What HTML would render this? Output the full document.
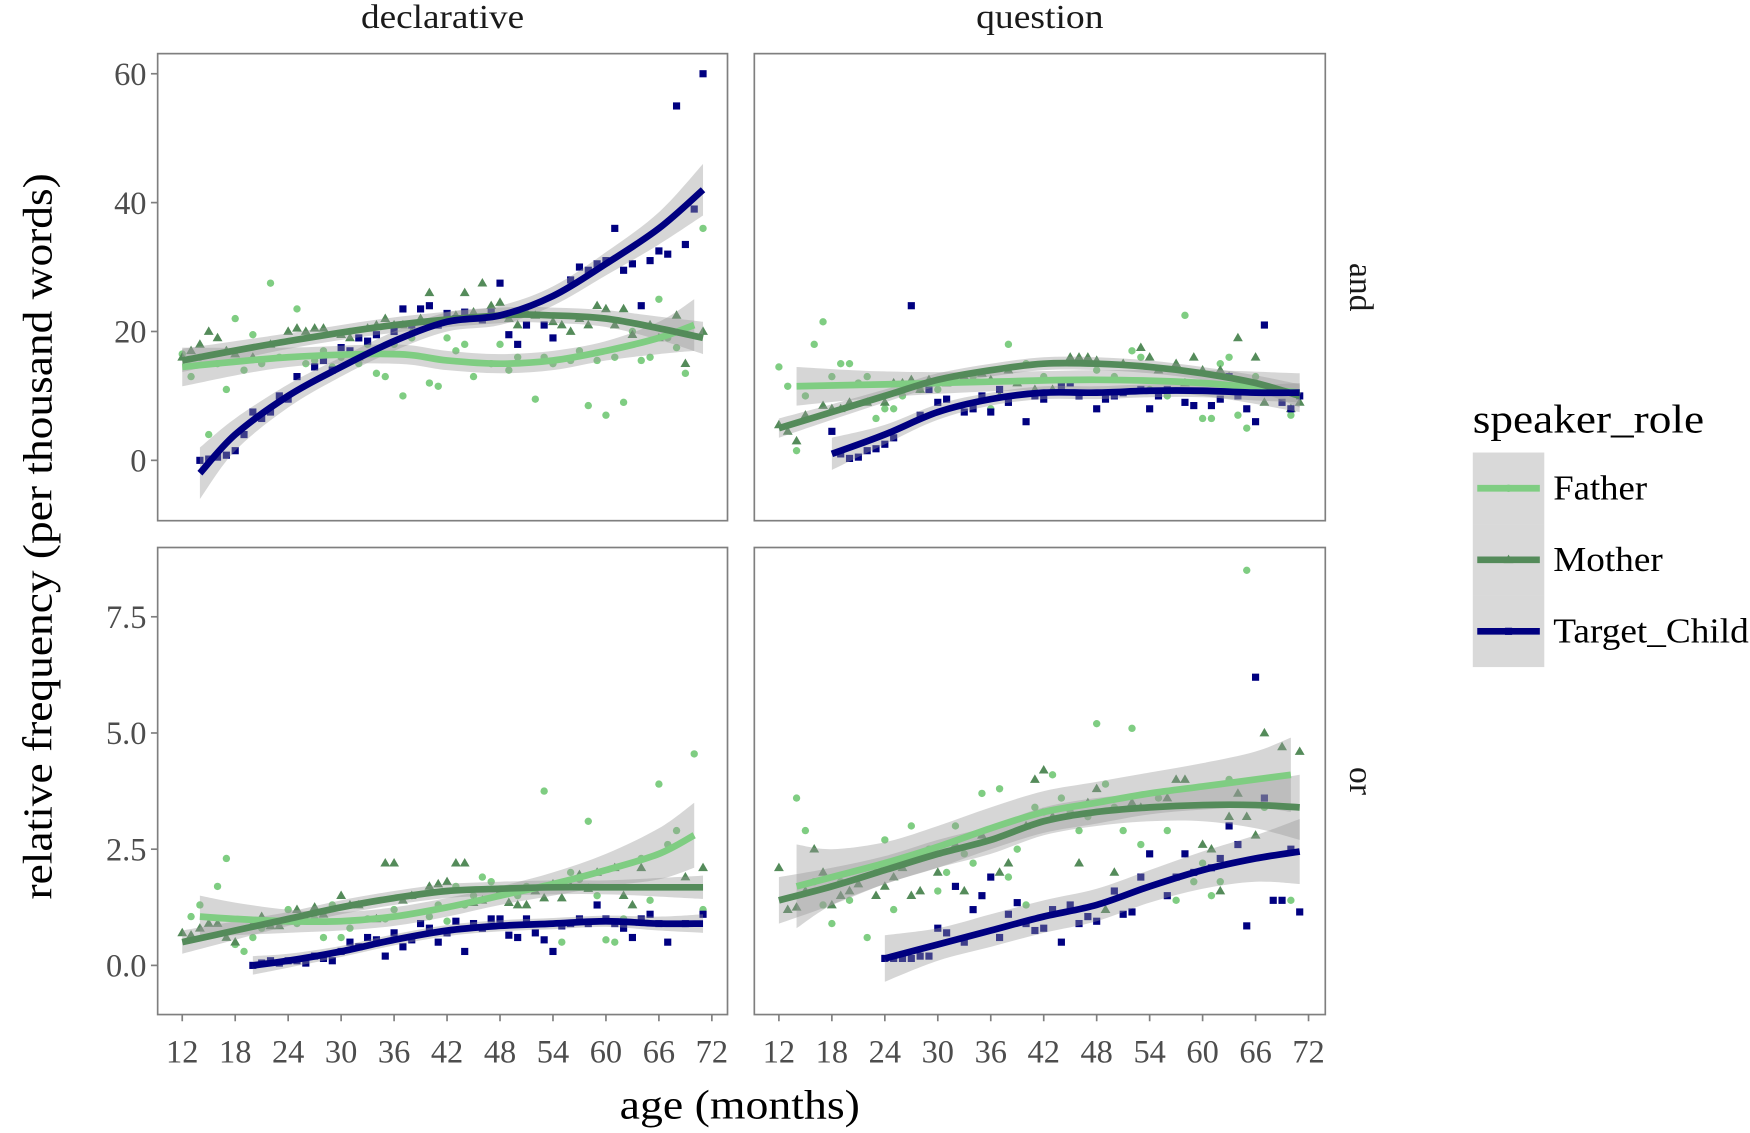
<!DOCTYPE html>
<html><head><meta charset="utf-8"><style>
html,body{margin:0;padding:0;background:#fff;}
svg{display:block;font-family:"Liberation Serif",serif;}
</style></head><body>
<svg id="chart" width="1750" height="1133" viewBox="0 0 1566 1014" xmlns="http://www.w3.org/2000/svg"></svg>
<script>
// ---------- data ----------
const xTicks = [12,18,24,30,36,42,48,54,60,66,72];
const yTicksTop = [0,20,40,60];
const yTicksBottom = [0.0,2.5,5.0,7.5];
const colLabels = ["declarative","question"];
const rowLabels = ["and","or"];
const seriesNames = ["Father","Mother","Target_Child"];

// and / declarative
const tlFatherPts = [[12,16.5],[13,13],[14,16],[15,4],[16,15],[17,11],[18,22],[19,14],[20,19.5],[21,15],[22,27.5],[23,16],[25,23.5],[26,15],[27,15.5],[28,17],[29,14.5],[30,16],[31,20],[32,15],[33,18],[34,13.5],[35,13],[36,18],[37,10],[38,19],[40,12],[41,11.5],[42,19],[43,17],[44,18],[45,13],[47,15],[48,18],[49,14],[50,16],[52,9.5],[53,16],[54,15],[56,15.5],[57,17],[58,8.5],[59,15.5],[60,7],[61,16],[62,9],[63,20],[64,15.5],[65,16],[66,25],[67,19],[68,17.5],[69,13.5],[71,36]];
const tlMotherPts = [[12,16],[13,17],[14,18],[15,20],[16,19],[17,17],[18,16.5],[20,16],[22,18],[24,20],[25,20.5],[26,20],[27,20.5],[28,20.5],[30,19.5],[31,19],[32,16],[33,20.5],[34,21],[35,22],[36,21],[37,21],[38,20],[39,22],[40,26],[42,22],[43,22.5],[44,26],[45,23],[46,27.5],[47,24],[48,24.5],[49,22],[50,21],[51,23],[52,22.5],[54,21.5],[55,21],[56,20],[57,22],[58,21],[59,24],[60,23.5],[61,21],[62,23.5],[63,19.5],[65,21],[66,19],[68,22.5],[69,15],[71,20]];
const tlTargetPts = [[14,0],[15,0.2],[16,0.5],[17,0.8],[18,1.5],[19,4],[20,7.5],[21,6.5],[22,7.5],[23,10],[24,9.5],[25,13],[27,14.5],[28,15.5],[29,14],[30,17.5],[31,17],[32,19],[33,18.5],[34,19.5],[36,20],[37,23.5],[38,21],[39,23.5],[40,24],[41,21],[42,22.8],[43,22],[44,23],[46,21.8],[47,23],[48,27.5],[49,19.5],[50,18],[51,21],[53,21],[54,19],[56,28],[57,30],[58,29.5],[59,30.5],[60,31],[61,36],[62,29.5],[63,30.5],[64,24],[65,31],[66,32.5],[67,32],[68,55],[69,33.5],[70,39],[71,60]];
const tlFatherAges=[12,24,36,42,48,54,60,66,70], tlFatherFit=[14.5,16,16.5,15.5,15,15.5,17,19,21], tlFatherCi=[3,1.5,1.5,1.5,1.5,1.5,1.5,2.5,4];
const tlMotherAges=[12,24,36,48,54,60,66,71], tlMotherFit=[15.5,18.5,21,22.5,22.5,22,20.5,19], tlMotherCi=[1.8,1.2,1.2,1.2,1.2,1.3,1.8,2.5];
const tlTargetAges=[14,18,24,30,36,42,48,54,60,66,71], tlTargetFit=[-2,4,10,14.5,18.5,21.5,22.5,25.5,30.5,36,42], tlTargetCi=[4,2.5,1.8,1.5,1.5,1.5,1.5,1.5,1.8,2.5,4];

// and / question
const trFatherPts = [[12,14.5],[13,11.5],[14,1.5],[15,10],[16,18],[17,21.5],[18,13],[19,15],[20,15],[21,12],[22,13],[23,6.5],[24,8],[25,8],[26,10],[28,11],[30,11],[32,13],[34,13],[36,8],[38,18],[40,15],[42,13],[44,12],[46,10],[48,14],[50,13],[52,17],[53,16],[54,11],[56,10],[58,22.5],[60,6.5],[61,6.5],[62,15],[63,16],[64,7],[65,5],[66,13],[68,11],[70,7]];
const trMotherPts = [[12,5.5],[13,4.5],[14,3],[15,7],[17,8.5],[18,8],[19,8],[20,9],[22,9],[24,9],[25,12],[26,12],[27,12.5],[28,11],[29,12.5],[31,12],[33,13],[35,13.5],[36,12.5],[37,10],[38,14],[39,12],[41,11],[43,11],[45,16],[46,16],[47,16],[48,15.5],[51,15],[53,17.5],[54,16],[55,14],[57,15],[58,12],[59,16],[60,14],[62,14],[63,13],[64,19],[66,16],[67,9],[70,8],[71,9]];
const trTargetPts = [[18,4.5],[19,1],[20,0.3],[21,0.5],[22,1.5],[23,1.8],[24,2.5],[25,3.5],[27,24],[28,7],[29,11],[30,9],[31,9.5],[33,7.5],[34,8],[35,10],[36,7.5],[37,11],[38,9],[40,6],[41,10],[42,9.5],[44,11.5],[45,12],[46,10],[48,8],[49,9.5],[50,10],[51,10.5],[53,11],[54,8],[55,10],[56,11],[58,9],[59,8.5],[61,8.5],[62,9.5],[63,13],[64,10],[65,8],[66,6],[67,21],[69,9],[70,8],[71,10]];
const trFatherAges=[14,24,36,48,60,71], trFatherFit=[11.5,11.8,12.2,12.5,12,10.5], trFatherCi=[3,2,1.5,1.5,2,3];
const trMotherAges=[12,18,24,30,36,42,48,54,60,66,71], trMotherFit=[5,7.5,10,12.5,14,15,15,14.5,13.5,12,10], trMotherCi=[1.5,1.2,1,1,1,1,1,1,1,1.2,1.8];
const trTargetAges=[18,24,30,36,42,48,54,60,66,71], trTargetFit=[1,4,7.5,9.5,10.5,10.5,10.8,10.8,10.5,10.5], trTargetCi=[2.5,1.5,1.2,1,1,1,1,1,1.2,1.5];

// or / declarative
const blFatherPts = [[13,1.05],[14,1.3],[16,1.7],[17,2.3],[18,0.45],[19,0.3],[20,0.6],[21,0.8],[23,0.9],[24,1.2],[25,0.9],[27,1.0],[28,0.6],[29,1.3],[30,0.6],[31,0.8],[33,1.0],[35,1.0],[36,1.2],[38,1.5],[40,1.05],[41,1.3],[42,0.95],[43,1.7],[44,1.3],[45,1.5],[46,1.9],[47,1.8],[48,1.6],[50,1.5],[51,1.7],[53,3.75],[55,0.5],[56,2.0],[57,1.85],[58,3.1],[59,1.5],[60,0.55],[61,0.5],[62,1.0],[64,2.3],[65,1.4],[66,3.9],[67,2.6],[68,2.9],[70,4.55],[71,1.2]];
const blMotherPts = [[12,0.7],[13,0.65],[14,0.8],[15,0.9],[16,0.9],[17,0.6],[18,0.5],[20,0.9],[21,1.05],[22,0.85],[23,0.85],[24,0.95],[25,1.2],[26,1.0],[27,1.25],[28,1.1],[30,1.5],[31,1.3],[32,1.3],[34,1.0],[35,2.2],[36,2.2],[37,1.4],[38,1.5],[40,1.7],[41,1.75],[42,1.8],[43,2.2],[44,2.2],[45,1.35],[46,1.4],[48,1.6],[49,1.35],[50,1.3],[51,1.3],[52,1.6],[53,1.45],[54,1.75],[55,1.45],[56,1.7],[57,1.95],[58,1.65],[59,2.0],[61,2.1],[62,1.5],[63,1.3],[64,2.1],[69,1.9],[71,2.1]];
const blTargetPts = [[20,0],[21,0.05],[22,0.1],[23,0.05],[24,0.1],[25,0.1],[26,0.05],[27,0.2],[28,0.15],[29,0.1],[30,0.3],[31,0.5],[32,0.4],[33,0.6],[34,0.55],[35,0.2],[36,0.7],[37,0.4],[38,0.55],[39,0.9],[40,0.8],[41,0.5],[42,0.7],[43,0.95],[44,0.3],[45,0.9],[46,0.8],[47,1.0],[48,1.0],[49,0.65],[50,0.6],[51,1.0],[52,0.7],[53,0.55],[54,0.3],[55,0.85],[56,0.9],[57,1.0],[58,0.9],[59,1.3],[60,1.0],[61,0.9],[62,0.8],[63,0.6],[64,1.0],[65,1.1],[66,0.9],[67,0.5],[69,0.9],[71,1.1]];
const blFatherAges=[14,18,24,30,36,42,48,54,60,66,70], blFatherFit=[1.05,1.0,0.95,0.95,1.05,1.25,1.5,1.75,2.05,2.4,2.8], blFatherCi=[0.45,0.35,0.25,0.2,0.2,0.2,0.2,0.25,0.35,0.55,0.7];
const blMotherAges=[12,18,24,30,36,42,48,54,60,66,71], blMotherFit=[0.5,0.75,1.0,1.25,1.45,1.6,1.65,1.68,1.68,1.68,1.68], blMotherCi=[0.25,0.2,0.15,0.15,0.15,0.15,0.15,0.15,0.15,0.2,0.25];
const blTargetAges=[20,24,30,36,42,48,54,60,66,71], blTargetFit=[0.0,0.1,0.3,0.55,0.75,0.85,0.9,0.95,0.9,0.9], blTargetCi=[0.2,0.15,0.12,0.12,0.12,0.12,0.12,0.12,0.15,0.2];

// or / question
const brFatherPts = [[14,3.6],[15,2.9],[16,1.8],[17,1.3],[18,0.9],[19,1.8],[20,1.4],[22,0.6],[23,2.0],[24,2.7],[25,1.2],[26,2.3],[27,3.0],[28,2.3],[29,2.5],[30,1.6],[31,2.0],[32,3.0],[33,2.4],[34,2.2],[35,3.7],[37,3.8],[38,1.9],[39,2.5],[40,1.3],[41,3.4],[42,3.3],[43,4.1],[44,3.6],[45,3.3],[46,2.9],[47,3.2],[48,5.2],[49,3.9],[50,3.4],[51,2.9],[52,5.1],[53,2.6],[55,3.6],[56,2.9],[57,1.4],[59,1.8],[60,2.2],[61,1.5],[62,1.8],[63,4.0],[65,8.5],[67,3.4],[70,1.4]];
const brMotherPts = [[12,2.1],[13,1.2],[14,1.25],[15,1.6],[16,2.5],[17,2.0],[18,1.3],[19,1.5],[20,1.6],[21,1.75],[23,1.5],[24,1.7],[25,1.9],[26,2.1],[27,1.5],[28,1.6],[30,2.0],[32,2.6],[33,1.6],[35,2.8],[37,2.0],[38,2.2],[40,3.0],[41,4.0],[42,4.2],[43,3.2],[46,2.2],[47,3.5],[48,3.8],[49,1.2],[50,2.0],[52,3.5],[53,3.4],[56,3.6],[57,4.0],[58,4.0],[60,2.6],[61,2.5],[62,1.6],[63,3.2],[64,3.7],[65,3.2],[66,2.8],[67,5.0],[69,4.7],[71,4.6]];
const brTargetPts = [[24,0.15],[25,0.15],[26,0.15],[27,0.15],[28,0.2],[29,0.2],[30,0.8],[31,0.7],[32,1.7],[33,0.5],[34,1.2],[35,1.5],[36,1.9],[37,0.6],[38,1.1],[39,1.35],[40,0.9],[41,0.75],[42,0.8],[43,1.2],[44,0.5],[45,1.3],[46,0.9],[47,1.05],[48,0.95],[50,1.6],[51,1.1],[52,1.15],[53,1.9],[54,2.4],[56,1.5],[57,1.9],[58,2.4],[59,2.0],[61,2.1],[62,2.3],[63,3.0],[64,2.6],[65,0.85],[66,6.2],[67,3.6],[68,1.4],[69,1.4],[70,2.5],[71,1.15]];
const brFatherAges=[14,18,24,30,36,42,48,54,60,66,70], brFatherFit=[1.7,1.9,2.2,2.55,2.95,3.3,3.5,3.7,3.85,4.0,4.1], brFatherCi=[0.9,0.6,0.45,0.45,0.45,0.45,0.45,0.45,0.5,0.6,0.8];
const brMotherAges=[12,18,24,30,36,42,48,54,60,66,71], brMotherFit=[1.4,1.7,2.05,2.4,2.7,3.1,3.3,3.4,3.45,3.45,3.4], brMotherCi=[0.5,0.4,0.3,0.3,0.3,0.3,0.3,0.3,0.35,0.5,0.7];
const brTargetAges=[24,30,36,42,48,54,60,66,71], brTargetFit=[0.15,0.45,0.75,1.05,1.3,1.7,2.05,2.3,2.45], brTargetCi=[0.5,0.35,0.35,0.35,0.35,0.35,0.4,0.5,0.7];

// ---------- rendering ----------
const NS="http://www.w3.org/2000/svg";
const svg=document.getElementById('chart');
function mk(tag,attrs,parent){const e=document.createElementNS(NS,tag);for(const k in attrs)e.setAttribute(k,attrs[k]);(parent||svg).appendChild(e);return e;}
const colors={Father:"#7fcd82",Mother:"#548b5a",Target_Child:"#000080"};
const panelsX=[[141,651],[675,1186]];
const panelsY=[[48,466],[490,908]];
const yScaleTop=v=>412-(v)*(412-66)/60;
const yScaleBot=v=>864-(v)*(864-552)/7.5;
function xScale(col){const x0=panelsX[col][0]+22, x1=panelsX[col][0]+496;return a=>x0+(a-12)*(x1-x0)/60;}

function smoothPath(pts){
  let d="M"+pts[0][0].toFixed(1)+","+pts[0][1].toFixed(1);
  for(let i=0;i<pts.length-1;i++){
    const p0=pts[Math.max(0,i-1)],p1=pts[i],p2=pts[i+1],p3=pts[Math.min(pts.length-1,i+2)];
    const c1=[p1[0]+(p2[0]-p0[0])/6,p1[1]+(p2[1]-p0[1])/6];
    const c2=[p2[0]-(p3[0]-p1[0])/6,p2[1]-(p3[1]-p1[1])/6];
    d+=" C"+c1[0].toFixed(1)+","+c1[1].toFixed(1)+" "+c2[0].toFixed(1)+","+c2[1].toFixed(1)+" "+p2[0].toFixed(1)+","+p2[1].toFixed(1);
  }
  return d;
}
function smoothLinePart(pts){return smoothPath(pts).replace(/^M[^ ]+/,"");}

const panels=[
 {row:0,col:0,pts:[tlFatherPts,tlMotherPts,tlTargetPts],fits:[[tlFatherAges,tlFatherFit,tlFatherCi],[tlMotherAges,tlMotherFit,tlMotherCi],[tlTargetAges,tlTargetFit,tlTargetCi]]},
 {row:0,col:1,pts:[trFatherPts,trMotherPts,trTargetPts],fits:[[trFatherAges,trFatherFit,trFatherCi],[trMotherAges,trMotherFit,trMotherCi],[trTargetAges,trTargetFit,trTargetCi]]},
 {row:1,col:0,pts:[blFatherPts,blMotherPts,blTargetPts],fits:[[blFatherAges,blFatherFit,blFatherCi],[blMotherAges,blMotherFit,blMotherCi],[blTargetAges,blTargetFit,blTargetCi]]},
 {row:1,col:1,pts:[brFatherPts,brMotherPts,brTargetPts],fits:[[brFatherAges,brFatherFit,brFatherCi],[brMotherAges,brMotherFit,brMotherCi],[brTargetAges,brTargetFit,brTargetCi]]}
];

function drawMarker(g,name,x,y,opacity){
  let m;
  if(name==="Father"){m=mk('circle',{cx:x,cy:y,r:3.3,fill:colors.Father,'fill-opacity':opacity},g);}
  else if(name==="Mother"){m=mk('path',{d:`M${x},${y-4.6}L${x+4.4},${y+3}L${x-4.4},${y+3}Z`,fill:colors.Mother,'fill-opacity':opacity},g);}
  else {m=mk('rect',{x:x-3.2,y:y-3.2,width:6.4,height:6.4,fill:colors.Target_Child,'fill-opacity':opacity},g);}
  return m;
}

panels.forEach(p=>{
  const [px0,px1]=panelsX[p.col],[py0,py1]=panelsY[p.row];
  const xs=xScale(p.col), ys=p.row===0?yScaleTop:yScaleBot;
  const g=mk('g',{'clip-path':`url(#clip${p.row}${p.col})`});
  
  
  const cp=mk('clipPath',{id:`clip${p.row}${p.col}`});
  mk('rect',{x:px0,y:py0,width:px1-px0,height:py1-py0},cp);
  p.pts.forEach((arr,si)=>{
    const sg=mk('g',{},g);
    
    
    arr.forEach(([a,v])=>{const m=drawMarker(sg,seriesNames[si],xs(a),ys(v),1);
      
      });
  });
  p.fits.forEach(([ages,fit,ci],si)=>{
    const up=ages.map((a,i)=>[xs(a),ys(fit[i]+ci[i])]);
    const lo=ages.map((a,i)=>[xs(a),ys(fit[i]-ci[i])]).reverse();
    const band=mk('path',{d:smoothPath(up)+" L"+lo[0][0].toFixed(1)+","+lo[0][1].toFixed(1)+smoothLinePart(lo)+" Z",fill:"#999",'fill-opacity':0.4},g);
    
    
  });
  p.fits.forEach(([ages,fit],si)=>{
    const line=mk('path',{d:smoothPath(ages.map((a,i)=>[xs(a),ys(fit[i])])),fill:"none",stroke:colors[seriesNames[si]],'stroke-width':6,'stroke-linecap':'butt'},g);
    
    
  });
  const border=mk('rect',{x:px0,y:py0,width:px1-px0,height:py1-py0,fill:"none",stroke:"#7f7f7f",'stroke-width':1.5});
  
  
  if(p.col===0){
    const ticks=p.row===0?yTicksTop:yTicksBottom;
    ticks.forEach(t=>{
      const y=ys(t);
      mk('line',{x1:px0-6,x2:px0,y1:y,y2:y,stroke:"#7f7f7f",'stroke-width':1.5});
      const tx=mk('text',{x:px0-10,y:y+10,'text-anchor':'end','font-size':29,fill:"#4d4d4d"});
      tx.textContent=p.row===0?String(t):t.toFixed(1);
      
      
    });
  }
  if(p.row===1){
    xTicks.forEach(t=>{
      const x=xs(t);
      mk('line',{x1:x,x2:x,y1:py1,y2:py1+6,stroke:"#7f7f7f",'stroke-width':1.5});
      const tx=mk('text',{x:x,y:py1+43,'text-anchor':'middle','font-size':29,fill:"#4d4d4d"});
      tx.textContent=String(t);
      
      
    });
  }
});
colLabels.forEach((l,i)=>{
  const t=mk('text',{x:(panelsX[i][0]+panelsX[i][1])/2,y:25,'text-anchor':'middle','font-size':30,fill:"#1a1a1a",textLength:l==="declarative"?146:114,lengthAdjust:"spacingAndGlyphs"});
  t.textContent=l;
  
  
});
rowLabels.forEach((l,i)=>{
  const cy=(panelsY[i][0]+panelsY[i][1])/2, cx=1208;
  const t=mk('text',{x:cx,y:cy,'text-anchor':'middle','font-size':30,fill:"#1a1a1a",transform:`rotate(90 ${cx} ${cy})`});
  t.textContent=l;
  
  
});
const yt=mk('text',{x:0,y:0,'text-anchor':'middle','font-size':37,fill:"#000",transform:"translate(46,480) rotate(-90)",textLength:650,lengthAdjust:"spacingAndGlyphs"});
yt.textContent="relative frequency (per thousand words)";


const xt=mk('text',{x:662,y:1001,'text-anchor':'middle','font-size':37,fill:"#000",textLength:215,lengthAdjust:"spacingAndGlyphs"});
xt.textContent="age (months)";


const lg=mk('g',{});


const lt=mk('text',{x:1318,y:387,'font-size':36,fill:"#000",textLength:207,lengthAdjust:"spacingAndGlyphs"},lg);
lt.textContent="speaker_role";


const legendLens=[84,98,175];
seriesNames.forEach((n,i)=>{
  const y0=405+i*64;
  const e=mk('g',{},lg);
  
  
  mk('rect',{x:1318,y:y0,width:64,height:64,fill:"#d9d9d9"},e);
  mk('line',{x1:1322,x2:1378,y1:y0+32,y2:y0+32,stroke:colors[n],'stroke-width':6},e);
  drawMarker(e,n,1350,y0+32,1);
  const t=mk('text',{x:1390,y:y0+42,'font-size':31,fill:"#000",textLength:legendLens[i],lengthAdjust:"spacingAndGlyphs"},e);
  t.textContent=n;
  
  
});
</script>
</body></html>
